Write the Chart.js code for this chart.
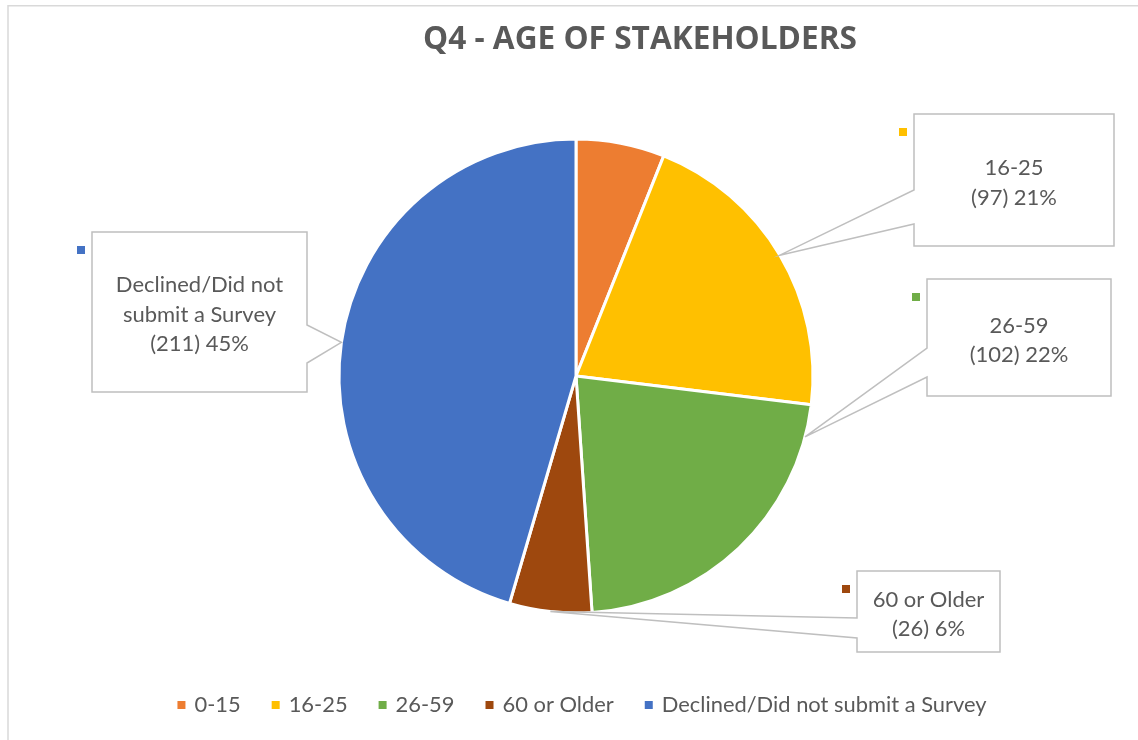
<!DOCTYPE html>
<html>
<head>
<meta charset="utf-8">
<script src="https://cdn.jsdelivr.net/npm/chart.js@4"></script>
<style>
html,body{margin:0;padding:0;background:#ffffff;}
#wrap{width:1138px;height:740px;position:relative;}
</style>
</head>
<body>
<div id="wrap"><canvas id="c" width="1138" height="740"></canvas></div>
<script>
// ---- data ----
const categories = ['0-15', '16-25', '26-59', '60 or Older', 'Declined/Did not submit a Survey'];
const counts = [28, 97, 102, 26, 211];
const sliceColors = ['#ED7D31', '#FFC000', '#70AD47', '#9E480E', '#4472C4'];
const titleText = 'Q4 - AGE OF STAKEHOLDERS';
const labelledSlices = [false, true, true, true, true];

// ---- styling / layout (not data) ----
const textColor = '#595959';
const calloutLayout = [
  null,
  {x: 914, y: 114, w: 200, h: 132, side: 'left',  wy1: 190, wy2: 224, anchor: 0.5},
  {x: 927, y: 279, w: 184, h: 117, side: 'left',  wy1: 348, wy2: 377, anchor: 0.1},
  {x: 857, y: 571, w: 143, h: 81,  side: 'left',  wy1: 618, wy2: 638, anchor: 0.5},
  {x: 92,  y: 232, w: 215, h: 160, side: 'right', wy1: 325, wy2: 363, anchor: 0.5}
];

function fitSize(ctx, weight, family, text, targetW) {
  ctx.font = weight + ' 100px ' + family;
  return 100 * targetW / ctx.measureText(text).width;
}

function wrapText(ctx, text, maxW) {
  const words = text.split(' ');
  const lines = [];
  let cur = '';
  words.forEach(w => {
    const t = cur ? cur + ' ' + w : w;
    if (cur && ctx.measureText(t).width > maxW) { lines.push(cur); cur = w; }
    else cur = t;
  });
  if (cur) lines.push(cur);
  return lines;
}

const decorPlugin = {
  id: 'decor',
  beforeDraw(chart) {
    const ctx = chart.ctx;
    ctx.save();
    ctx.fillStyle = '#ffffff';
    ctx.fillRect(0, 0, chart.width, chart.height);
    ctx.strokeStyle = '#d9d9d9';
    ctx.lineWidth = 1.5;
    ctx.strokeRect(8, 5.75, 1300, 900);
    ctx.restore();
  },
  afterDatasetsDraw(chart) {
    const ctx = chart.ctx;
    const ds = chart.data.datasets[0];
    const vals = ds.data;
    const total = vals.reduce((a, b) => a + b, 0);
    const meta = chart.getDatasetMeta(0);
    ctx.save();

    // title
    const tSize = fitSize(ctx, '700', '"Open Sans"', titleText, 434);
    ctx.font = '700 ' + tSize + 'px "Open Sans"';
    ctx.fillStyle = textColor;
    ctx.textAlign = 'center';
    ctx.textBaseline = 'alphabetic';
    ctx.fillText(titleText, 640, 49);

    // callouts
    const lSize = fitSize(ctx, '400', 'Lato', '(97) 21%', 86);
    const lineH = 29.5;
    meta.data.forEach((arc, i) => {
      if (!labelledSlices[i] || !calloutLayout[i]) return;
      const L = calloutLayout[i];
      const p = arc.getProps(['x', 'y', 'startAngle', 'endAngle', 'outerRadius'], true);
      const a = p.startAngle + L.anchor * (p.endAngle - p.startAngle);
      const tx = p.x + Math.cos(a) * p.outerRadius;
      const ty = p.y + Math.sin(a) * p.outerRadius;
      ctx.beginPath();
      if (L.side === 'left') {
        ctx.moveTo(L.x, L.y);
        ctx.lineTo(L.x + L.w, L.y);
        ctx.lineTo(L.x + L.w, L.y + L.h);
        ctx.lineTo(L.x, L.y + L.h);
        ctx.lineTo(L.x, L.wy2);
        ctx.lineTo(tx, ty);
        ctx.lineTo(L.x, L.wy1);
        ctx.closePath();
      } else {
        ctx.moveTo(L.x, L.y);
        ctx.lineTo(L.x + L.w, L.y);
        ctx.lineTo(L.x + L.w, L.wy1);
        ctx.lineTo(tx, ty);
        ctx.lineTo(L.x + L.w, L.wy2);
        ctx.lineTo(L.x + L.w, L.y + L.h);
        ctx.lineTo(L.x, L.y + L.h);
        ctx.closePath();
      }
      ctx.fillStyle = '#ffffff';
      ctx.fill();
      ctx.strokeStyle = '#bfbfbf';
      ctx.lineWidth = 1.5;
      ctx.stroke();

      // key marker
      ctx.fillStyle = ds.backgroundColor[i];
      ctx.fillRect(L.x - 15, L.y + 14, 8, 8);

      // text
      ctx.font = '400 ' + lSize + 'px Lato';
      ctx.fillStyle = textColor;
      ctx.textAlign = 'center';
      const lines = wrapText(ctx, chart.data.labels[i], L.w - 16);
      lines.push('(' + vals[i] + ') ' + Math.round(vals[i] / total * 100) + '%');
      const cy = L.y + L.h / 2 + 2;
      const cap = lSize * 0.72;
      lines.forEach((ln, k) => {
        const by = cy - (lines.length - 1) / 2 * lineH + k * lineH + cap / 2;
        ctx.fillText(ln, L.x + L.w / 2, by);
      });
    });

    // legend
    const gSize = fitSize(ctx, '400', 'Lato', categories[4], 325);
    ctx.font = '400 ' + gSize + 'px Lato';
    const box = 8, gap = 9, itemGap = 31;
    const widths = chart.data.labels.map(t => ctx.measureText(t).width);
    const totalW = widths.reduce((s, w) => s + box + gap + w, 0) + itemGap * (widths.length - 1);
    let x = 582 - totalW / 2;
    ctx.textAlign = 'left';
    chart.data.labels.forEach((t, i) => {
      ctx.fillStyle = ds.backgroundColor[i];
      ctx.fillRect(x, 701, box, box);
      ctx.fillStyle = textColor;
      ctx.fillText(t, x + box + gap, 712);
      x += box + gap + widths[i] + itemGap;
    });
    ctx.restore();
  }
};

new Chart(document.getElementById('c'), {
  type: 'pie',
  data: {
    labels: categories,
    datasets: [{
      data: counts,
      backgroundColor: sliceColors,
      borderColor: '#ffffff',
      borderWidth: 3,
      radius: 237
    }]
  },
  options: {
    responsive: false,
    animation: false,
    layout: {padding: {left: 120, right: 106, top: 112, bottom: 100}},
    plugins: {
      legend: {display: false},
      title: {display: false},
      tooltip: {enabled: false}
    }
  },
  plugins: [decorPlugin]
});
</script>
</body>
</html>
